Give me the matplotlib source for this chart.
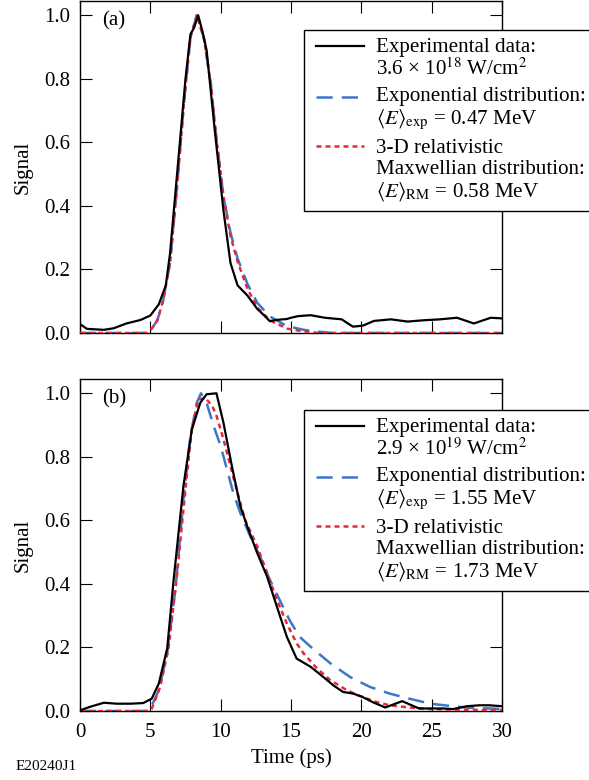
import matplotlib
matplotlib.use('Agg')
import matplotlib.pyplot as plt
from matplotlib.legend_handler import HandlerLine2D
import numpy as np

plt.rcParams['font.family'] = ['Liberation Serif', 'DejaVu Serif']
plt.rcParams['mathtext.fontset'] = 'stix'
plt.rcParams['font.size'] = 15

# ---- panel (a) ----
t_exp_a = [0, 0.5, 1.7, 2.4, 3.3, 4.3, 5.0, 5.6, 6.1, 6.4, 7.0, 7.5, 7.85, 8.1, 8.4, 8.7,
           9.0, 9.6, 10.2, 10.7, 11.2, 11.9, 12.6, 13.1, 13.5, 13.9, 14.7, 15.0, 15.5, 16.4,
           17.4, 18.6, 19.4, 20.1, 20.9, 22.1, 23.3, 24.4, 25.6, 26.8, 28.0, 29.2, 30.0]
s_exp_a = [0.028, 0.013, 0.010, 0.015, 0.030, 0.041, 0.055, 0.090, 0.150, 0.250, 0.550, 0.800,
           0.940, 0.960, 1.000, 0.950, 0.890, 0.630, 0.385, 0.220, 0.150, 0.118, 0.076, 0.055,
           0.037, 0.041, 0.044, 0.048, 0.053, 0.056, 0.048, 0.043, 0.020, 0.023, 0.038, 0.043,
           0.036, 0.040, 0.043, 0.048, 0.030, 0.048, 0.046]

t_fit_a = [0, 4.8, 5.0, 5.5, 5.9, 6.4, 6.9, 7.4, 7.85, 8.3, 8.8, 9.3, 9.7, 10.2, 10.7, 11.2,
           11.9, 12.6, 13.5, 14.7, 15.9, 17.0, 18.0, 30.0]
s_expo_a = [0, 0, 0.007, 0.040, 0.100, 0.220, 0.460, 0.730, 0.930, 1.000, 0.930, 0.785, 0.610,
            0.430, 0.315, 0.235, 0.155, 0.095, 0.052, 0.022, 0.010, 0.004, 0.0, 0.0]
s_rm_a = [0, 0, 0.007, 0.040, 0.100, 0.220, 0.460, 0.730, 0.930, 1.000, 0.930, 0.785, 0.610,
          0.430, 0.305, 0.225, 0.140, 0.080, 0.040, 0.014, 0.005, 0.0, 0.0, 0.0]

# ---- panel (b) ----
t_exp_b = [0, 0.7, 1.7, 2.6, 3.6, 4.5, 5.1, 5.6, 6.2, 6.65, 7.35, 7.95, 8.55, 9.0, 9.7, 10.2,
           10.8, 11.4, 11.9, 12.6, 13.3, 14.0, 14.7, 15.4, 16.4, 17.3, 18.0, 18.7, 19.4, 20.0,
           20.8, 21.7, 22.9, 24.1, 24.9, 25.8, 26.5, 27.5, 28.4, 29.1, 30.0]
s_exp_b = [0.002, 0.013, 0.026, 0.023, 0.023, 0.025, 0.039, 0.086, 0.197, 0.410, 0.707, 0.886,
           0.970, 0.997, 1.000, 0.907, 0.770, 0.644, 0.580, 0.497, 0.423, 0.328, 0.234, 0.165,
           0.139, 0.107, 0.081, 0.060, 0.055, 0.046, 0.028, 0.011, 0.031, 0.008, 0.008, 0.008,
           0.006, 0.015, 0.018, 0.018, 0.015]

t_expo_b = [0, 4.8, 5.0, 5.6, 6.2, 6.8, 7.35, 7.85, 8.3, 8.6, 9.0, 9.5, 10.0, 10.45, 10.9,
            11.4, 12.1, 12.8, 13.5, 14.2, 14.9, 15.6, 16.4, 17.8, 19.2, 20.6, 22.0, 23.4, 24.9,
            26.3, 27.7, 29.1, 30.0]
s_expo_b = [0, 0, 0.007, 0.065, 0.180, 0.390, 0.665, 0.865, 0.970, 1.000, 0.970, 0.897, 0.834,
            0.760, 0.686, 0.623, 0.550, 0.486, 0.413, 0.349, 0.286, 0.234, 0.202, 0.150, 0.107,
            0.076, 0.055, 0.039, 0.023, 0.016, 0.010, 0.008, 0.006]

t_rm_b = [0, 4.9, 5.1, 5.7, 6.3, 6.9, 7.5, 7.95, 8.4, 8.9, 9.4, 9.7, 10.2, 10.7, 11.2, 11.75,
          12.6, 13.3, 14.0, 14.7, 15.4, 15.9, 16.85, 17.8, 18.8, 19.7, 21.1, 22.0, 23.4, 24.9,
          26.8, 30.0]
s_rm_b = [0, 0, 0.007, 0.076, 0.200, 0.430, 0.700, 0.886, 0.980, 0.986, 0.960, 0.930, 0.855,
          0.770, 0.686, 0.600, 0.518, 0.434, 0.350, 0.276, 0.213, 0.181, 0.134, 0.097, 0.070,
          0.050, 0.028, 0.018, 0.011, 0.006, 0.004, 0.003]

labels_a = ['Experimental data:\n3.6 × 10$^{18}$ W/cm$^{2}$',
            'Exponential distribution:\n$\\langle E\\rangle_{\\rm exp}$ = 0.47 MeV',
            '3-D relativistic\nMaxwellian distribution:\n$\\langle E\\rangle_{\\rm RM}$ = 0.58 MeV']
labels_b = ['Experimental data:\n2.9 × 10$^{19}$ W/cm$^{2}$',
            'Exponential distribution:\n$\\langle E\\rangle_{\\rm exp}$ = 1.55 MeV',
            '3-D relativistic\nMaxwellian distribution:\n$\\langle E\\rangle_{\\rm RM}$ = 1.73 MeV']

blue = '#3c78c8'
red = '#e6283c'


class FirstLineHandler(HandlerLine2D):
    # put the legend sample next to the first text line instead of the middle
    def __init__(self, shift, **kw):
        super().__init__(xpad=0.19, **kw)
        self.shift = shift

    def create_artists(self, *args, **kw):
        arts = super().create_artists(*args, **kw)
        for a in arts:
            a.set_ydata(np.asarray(a.get_ydata()) + self.shift)
        return arts


W, H = 589, 780
fig = plt.figure(figsize=(W / 100, H / 100), dpi=100)
ax_a = fig.add_axes([80 / W, 1 - 333 / H, 422 / W, 332 / H])
ax_b = fig.add_axes([80 / W, 1 - 711 / H, 422 / W, 332 / H])

step = 9.0
panels = [(ax_a, t_exp_a, s_exp_a, t_fit_a, s_expo_a, t_fit_a, s_rm_a, labels_a, '(a)', 30),
          (ax_b, t_exp_b, s_exp_b, t_expo_b, s_expo_b, t_rm_b, s_rm_b, labels_b, '(b)', 410)]

for ax, te, se, tx, sx, tr, sr, labs, tag, ltop in panels:
    l_blue, = ax.plot(tx, sx, color=blue, lw=1.8, dashes=(6.5, 3.6), zorder=2)
    l_red, = ax.plot(tr, sr, color=red, lw=1.8, dashes=(2, 1.6), zorder=3)
    l_blk, = ax.plot(te, se, color='black', lw=1.6, zorder=4)

    ax.set_xlim(0, 30)
    ax.set_ylim(0, 1.045)
    ax.set_xticks([0, 5, 10, 15, 20, 25, 30])
    ax.set_yticks([0, 0.2, 0.4, 0.6, 0.8, 1.0])
    ax.set_yticklabels(['0.0', '0.2', '0.4', '0.6', '0.8', '1.0'])
    ax.tick_params(direction='in', length=8.5, width=0.8, top=True, right=True)
    ax.tick_params(axis='y', pad=7)
    ax.tick_params(axis='x', pad=8.5)
    for sp in ax.spines.values():
        sp.set_linewidth(1.0)
    ax.set_ylabel('Signal', labelpad=8)
    ax.text(0.052, 0.94, tag, transform=ax.transAxes, ha='left', va='center')

    leg = ax.legend([l_blk, l_blue, l_red], labs, loc='upper left',
                    bbox_to_anchor=(304 / W, 1 - ltop / H), bbox_transform=fig.transFigure,
                    borderaxespad=0, fancybox=False, framealpha=1, edgecolor='black',
                    fontsize=15.1, handlelength=2.48, handletextpad=0.57, borderpad=0.36,
                    labelspacing=0.32,
                    handler_map={l_blk: FirstLineHandler(step),
                                 l_blue: FirstLineHandler(step),
                                 l_red: FirstLineHandler(2 * step)})
    leg.get_frame().set_linewidth(1.0)
    for t in leg.get_texts():
        t.set_linespacing(1.12)

ax_a.tick_params(axis='x', labelbottom=False)
ax_b.set_xlabel('Time (ps)', labelpad=5)

fig.text(16 / W, 1 - 767 / H, 'E20240J1', fontsize=11, ha='left', va='center')

fig.savefig('out.png', dpi=100)
